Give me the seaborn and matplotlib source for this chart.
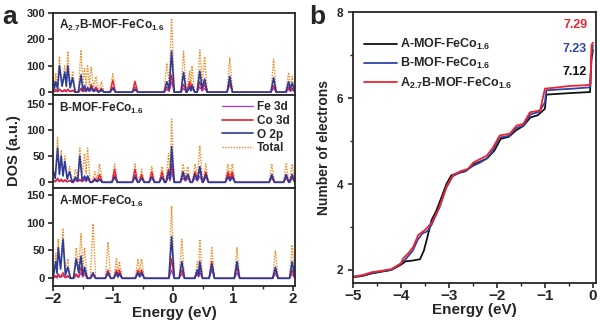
import numpy as np
import pandas as pd
import matplotlib
matplotlib.use("Agg")
import matplotlib.pyplot as plt
import seaborn as sns
from matplotlib.lines import Line2D

sns.set_style("ticks")
plt.rcParams['font.family'] = ['Liberation Sans', 'DejaVu Sans']
plt.rcParams['font.weight'] = 'bold'
plt.rcParams['mathtext.fontset'] = 'custom'
plt.rcParams['mathtext.rm'] = 'Liberation Sans:bold'
plt.rcParams['mathtext.bf'] = 'Liberation Sans:bold'
plt.rcParams['mathtext.default'] = 'bf'

# ---------------- data: panel a (PDOS peaks) ----------------
# peak energy (eV), Total, O 2p, Co 3d, Fe 3d
a27b_E     = [-2.00, -1.95, -1.89, -1.80, -1.75, -1.67, -1.53, -1.47, -1.42, -1.36, -1.28, -1.19, -1.00, -0.63, -0.10, -0.02, 0.18, 0.28, 0.32, 0.45, 0.53, 0.95, 1.68, 1.93, 1.99]
a27b_total = [90, 70, 135, 100, 155, 80, 160, 90, 100, 95, 60, 40, 70, 45, 110, 280, 155, 80, 100, 160, 135, 130, 125, 75, 60]
a27b_o2p   = [60, 40, 100, 75, 100, 55, 65, 25, 15, 20, 10, 10, 15, 10, 40, 155, 75, 20, 25, 80, 50, 60, 55, 40, 35]
a27b_co3d  = [8, 10, 12, 10, 12, 8, 15, 10, 20, 30, 20, 15, 45, 40, 20, 65, 30, 40, 30, 40, 30, 30, 25, 20, 15]
a27b_fe3d  = [5, 5, 8, 5, 8, 5, 10, 5, 10, 10, 8, 5, 20, 20, 10, 40, 15, 20, 15, 20, 15, 40, 15, 10, 10]

b_E     = [-2.00, -1.92, -1.86, -1.80, -1.72, -1.62, -1.55, -1.47, -1.42, -1.30, -1.22, -0.97, -0.63, -0.52, -0.35, -0.18, -0.07, -0.02, 0.17, 0.25, 0.37, 0.45, 0.55, 0.92, 0.99, 1.65, 1.89, 1.99]
b_total = [30, 85, 60, 50, 30, 25, 65, 55, 65, 20, 35, 35, 35, 25, 30, 30, 55, 120, 35, 30, 35, 70, 35, 35, 35, 35, 35, 35]
b_o2p   = [25, 65, 50, 40, 20, 10, 50, 12, 12, 5, 5, 10, 10, 8, 10, 10, 20, 68, 20, 15, 15, 30, 15, 10, 10, 15, 15, 15]
b_co3d  = [5, 8, 6, 5, 4, 8, 6, 10, 12, 8, 15, 25, 25, 15, 20, 20, 25, 35, 15, 15, 20, 25, 20, 20, 20, 10, 10, 10]
b_fe3d  = [3, 5, 4, 3, 3, 4, 4, 5, 6, 4, 8, 15, 15, 8, 10, 10, 10, 20, 8, 8, 8, 12, 10, 15, 15, 8, 8, 8]

a_E     = [-1.95, -1.91, -1.83, -1.75, -1.61, -1.53, -1.47, -1.33, -1.08, -0.94, -0.89, -0.58, -0.52, -0.02, 0.15, 0.41, 0.45, 0.65, 1.07, 1.71, 1.99]
a_total = [45, 70, 90, 35, 55, 80, 55, 98, 65, 35, 30, 35, 35, 130, 70, 30, 70, 55, 55, 50, 60]
a_o2p   = [30, 55, 70, 20, 35, 40, 20, 10, 10, 10, 8, 10, 10, 75, 30, 15, 30, 25, 30, 20, 30]
a_co3d  = [5, 8, 10, 5, 8, 20, 15, 8, 15, 15, 15, 15, 15, 35, 15, 15, 20, 30, 20, 15, 15]
a_fe3d  = [3, 5, 5, 3, 5, 10, 8, 5, 8, 8, 8, 8, 8, 15, 8, 8, 10, 15, 10, 8, 8]

# ---------------- data: panel b (integrated electrons) ----------------
A_E = [-5.0, -4.8, -4.6, -4.4, -4.2, -4.0, -3.9, -3.75, -3.6, -3.52, -3.45, -3.36, -3.26, -3.15, -3.05, -2.95, -2.8, -2.65, -2.5, -2.35, -2.2, -2.05, -1.92, -1.75, -1.6, -1.45, -1.3, -1.15, -1.0, -0.97, -0.7, -0.4, -0.06, -0.03, 0.0]
A_N = [1.83, 1.86, 1.92, 1.96, 2.0, 2.12, 2.2, 2.22, 2.25, 2.45, 2.75, 3.16, 3.38, 3.7, 4.0, 4.2, 4.26, 4.3, 4.45, 4.52, 4.6, 4.78, 5.05, 5.1, 5.25, 5.35, 5.55, 5.6, 5.75, 6.08, 6.1, 6.12, 6.14, 6.9, 7.12]
B_E = [-5.0, -4.8, -4.6, -4.4, -4.2, -4.0, -3.9, -3.75, -3.65, -3.55, -3.45, -3.36, -3.2, -3.05, -2.92, -2.8, -2.65, -2.5, -2.35, -2.2, -2.07, -1.95, -1.75, -1.6, -1.45, -1.3, -1.12, -1.0, -0.97, -0.7, -0.4, -0.06, -0.03, 0.0]
B_N = [1.84, 1.87, 1.93, 1.97, 2.0, 2.15, 2.25, 2.45, 2.7, 2.85, 2.9, 3.05, 3.45, 3.92, 4.18, 4.25, 4.3, 4.42, 4.5, 4.6, 4.8, 5.08, 5.12, 5.3, 5.36, 5.62, 5.68, 5.9, 6.18, 6.2, 6.22, 6.25, 7.0, 7.23]
C_E = [-5.0, -4.8, -4.6, -4.4, -4.2, -4.0, -3.95, -3.85, -3.74, -3.64, -3.5, -3.36, -3.19, -3.05, -2.91, -2.75, -2.6, -2.49, -2.35, -2.21, -2.08, -1.94, -1.73, -1.59, -1.45, -1.31, -1.1, -1.0, -0.8, -0.5, -0.13, -0.05, -0.03, 0.0]
C_N = [1.84, 1.88, 1.95, 1.98, 2.02, 2.15, 2.27, 2.38, 2.54, 2.81, 2.93, 3.09, 3.47, 3.94, 4.21, 4.3, 4.35, 4.5, 4.58, 4.66, 4.85, 5.13, 5.17, 5.36, 5.4, 5.67, 5.71, 6.22, 6.24, 6.28, 6.3, 6.32, 7.23, 7.29]

names_b = ['A-MOF-FeCo$_{1.6}$', 'B-MOF-FeCo$_{1.6}$', 'A$_{2.7}$B-MOF-FeCo$_{1.6}$']
end_labels = ['7.12', '7.23', '7.29']

C_FE, C_CO, C_O, C_TOT = '#a545c4', '#e8202e', '#2a3c9c', '#f08a24'
C_A, C_B, C_C = '#111111', '#2d44a8', '#ee2530'


def spikes(centers, heights, w=0.045):
    """polyline of triangular peaks built from the read peak tables"""
    xs, ys = [], []
    for i, (c, h) in enumerate(zip(centers, heights)):
        if i == 0 or c - centers[i - 1] > 2 * w:
            xs.append(c - w); ys.append(0)
        else:
            xs.append((c + centers[i - 1]) / 2); ys.append(0.3 * min(h, heights[i - 1]))
        xs.append(c); ys.append(h)
        if i == len(centers) - 1 or centers[i + 1] - c > 2 * w:
            xs.append(c + w); ys.append(0)
    xs = [-2.1] + xs + [2.1]
    ys = [0] + ys + [0]
    return pd.DataFrame({'E': xs, 'DOS': ys})


fig = plt.figure(figsize=(6.0, 3.27), dpi=100)
gs = fig.add_gridspec(3, 1, left=0.088, right=0.492, top=0.960, bottom=0.125,
                      hspace=0, height_ratios=[82, 93, 98])
axs = [fig.add_subplot(gs[i]) for i in range(3)]

panels = [
    (a27b_E, a27b_total, a27b_o2p, a27b_co3d, a27b_fe3d, 'A$_{2.7}$B-MOF-FeCo$_{1.6}$', (-11, 300), [0, 100, 200, 300]),
    (b_E, b_total, b_o2p, b_co3d, b_fe3d, 'B-MOF-FeCo$_{1.6}$', (-11, 166), [0, 50, 100, 150]),
    (a_E, a_total, a_o2p, a_co3d, a_fe3d, 'A-MOF-FeCo$_{1.6}$', (-14, 162), [0, 50, 100, 150]),
]
for ax, (E, tot, o, co, fe, title, ylim, yt) in zip(axs, panels):
    sns.lineplot(data=spikes(E, tot), x='E', y='DOS', ax=ax, color=C_TOT, lw=1.0,
                 linestyle=(0, (1, 1)), estimator=None, sort=False)
    sns.lineplot(data=spikes(E, fe), x='E', y='DOS', ax=ax, color=C_FE, lw=1.0, estimator=None, sort=False)
    sns.lineplot(data=spikes(E, co), x='E', y='DOS', ax=ax, color=C_CO, lw=1.0, estimator=None, sort=False)
    sns.lineplot(data=spikes(E, o), x='E', y='DOS', ax=ax, color=C_O, lw=1.2, estimator=None, sort=False)
    ax.set_xlim(-2.0, 2.04)
    ax.set_ylim(*ylim)
    ax.set_yticks(yt)
    ax.set_xticks([-2, -1, 0, 1, 2])
    ax.set_xticks([-1.5, -0.5, 0.5, 1.5], minor=True)
    ax.set_xlabel('')
    ax.set_ylabel('')
    ax.text(0.025, 0.94, title, transform=ax.transAxes, ha='left', va='top', fontsize=8.5, fontweight='bold')
    for s in ax.spines.values():
        s.set_linewidth(1.3)
        s.set_visible(True)
    ax.tick_params(axis='both', direction='out', width=1.2, labelsize=8, length=3.5, pad=2)
    ax.tick_params(which='minor', direction='out', width=1.0, length=2.5)
    if ax is not axs[2]:
        ax.tick_params(axis='x', which='both', labelbottom=False, bottom=False)

axs[2].set_xlabel('Energy (eV)', fontsize=11, fontweight='bold', labelpad=0)
axs[2].tick_params(axis='x', labelsize=11, pad=1)
fig.text(0.012, 0.54, 'DOS (a.u.)', rotation=90, ha='left', va='center', fontsize=10.5, fontweight='bold')

handles = [Line2D([], [], color=C_FE, lw=1.0), Line2D([], [], color=C_CO, lw=1.2),
           Line2D([], [], color=C_O, lw=1.2), Line2D([], [], color=C_TOT, lw=1.0, linestyle=(0, (1, 1)))]
axs[1].legend(handles, ['Fe 3d', 'Co 3d', 'O 2p', 'Total'], loc='upper right', frameon=False,
              handlelength=2.6, handletextpad=0.3, labelspacing=0.15,
              borderaxespad=0.1, bbox_to_anchor=(1.0, 1.0), prop={'weight': 'bold', 'size': 8.5})

# ---------------- panel b ----------------
axb = fig.add_axes([0.588, 0.135, 0.405, 0.828])
for E, N, col, name in [(A_E, A_N, C_A, names_b[0]), (B_E, B_N, C_B, names_b[1]), (C_E, C_N, C_C, names_b[2])]:
    sns.lineplot(x=E, y=N, ax=axb, color=col, lw=1.3, estimator=None, sort=False, label=name)
axb.set_xlim(-5.0, 0.06)
axb.set_ylim(1.70, 8.0)
axb.set_xticks([-5, -4, -3, -2, -1, 0])
axb.set_xticks([-4.5, -3.5, -2.5, -1.5, -0.5], minor=True)
axb.set_yticks([2, 4, 6, 8])
axb.set_yticks([3, 5, 7], minor=True)
for s in axb.spines.values():
    s.set_linewidth(1.3)
    s.set_visible(True)
axb.tick_params(axis='both', direction='out', width=1.2, length=3.5, labelsize=8.5)
axb.tick_params(axis='x', labelsize=11, pad=1)
axb.tick_params(which='minor', direction='out', width=1.0, length=2.5)
axb.set_xlabel('Energy (eV)', fontsize=11, fontweight='bold', labelpad=0)
axb.set_ylabel('Number of electrons', fontsize=10, fontweight='bold', labelpad=4)
axb.legend(loc='upper left', frameon=False, bbox_to_anchor=(0.0, 0.95), handlelength=2.6,
           handletextpad=0.3, labelspacing=0.35, prop={'weight': 'bold', 'size': 9})
for lab, col, y in zip(end_labels, [C_A, C_B, C_C], [6.6, 7.14, 7.7]):
    axb.text(-0.12, y, lab, color=col, ha='right', va='center', fontsize=9, fontweight='bold')

fig.text(0.004, 0.985, 'a', fontsize=19, fontweight='bold', ha='left', va='top')
fig.text(0.515, 0.985, 'b', fontsize=19, fontweight='bold', ha='left', va='top')

fig.savefig('out.png', dpi=100)
